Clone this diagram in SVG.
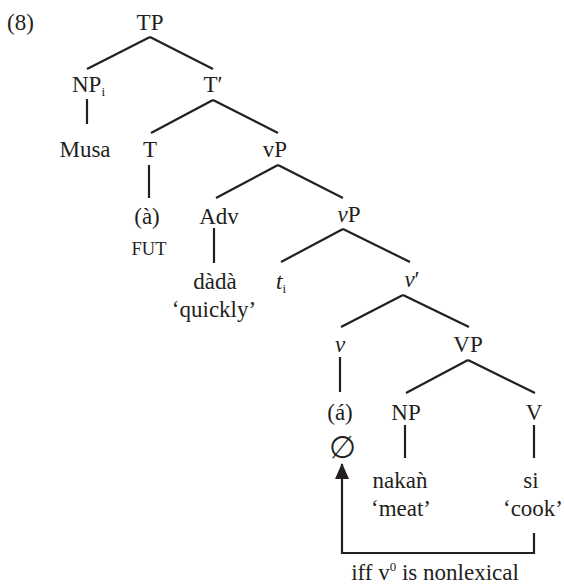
<svg xmlns="http://www.w3.org/2000/svg" width="564" height="586" viewBox="0 0 564 586">
  <style>
    text { font-family: "Liberation Serif", "Times New Roman", serif; font-size: 23px; fill: #231f20; text-anchor: middle; }
    .it { font-style: italic; }
    .sub { font-size: 13px; font-style: normal; }
    .sc { font-size: 18.5px; }
    .edge { stroke: #231f20; stroke-width: 2.2; fill: none; stroke-linecap: butt; }
  </style>
  <defs>
    <marker id="arrowhead" markerWidth="16" markerHeight="14" refX="15" refY="7" orient="auto" markerUnits="userSpaceOnUse" viewBox="0 0 16 14">
      <path d="M0,0 L16,7 L0,14 Z" fill="#231f20"/>
    </marker>
  </defs>
  <rect width="564" height="586" fill="#ffffff"/>

  <text x="7" y="30" style="text-anchor:start">(8)</text>

  <!-- tree branches -->
  <g id="connectors">
    <path class="edge" d="M150,37 L87,69 M150,37 L213,69"/>
    <path class="edge" d="M87,99 V124"/>
    <path class="edge" d="M213,100 L151,133 M213,100 L278,133"/>
    <path class="edge" d="M149,165 V198"/>
    <path class="edge" d="M278,165 L216,198 M278,165 L343,198"/>
    <path class="edge" d="M214,228 V263"/>
    <path class="edge" d="M343,229 L281,262 M343,229 L410,262"/>
    <path class="edge" d="M403,295 L341,327 M403,295 L469,327"/>
    <path class="edge" d="M340,357 V392"/>
    <path class="edge" d="M468,360 L406,393 M468,360 L535,393"/>
    <path class="edge" d="M405,425 V458"/>
    <path class="edge" d="M534,425 V458"/>
    <!-- head movement arrow from V up to v -->
    <path class="edge" d="M534,533 V553 H342 V464" marker-end="url(#arrowhead)"/>
  </g>

  <g id="TP"><text x="150" y="30">TP</text></g>
  <g id="NPi"><text x="72" y="92" style="text-anchor:start">NP<tspan class="sub" dy="4">i</tspan></text></g>
  <g id="Tbar"><text x="213" y="92">T′</text></g>
  <g id="Musa"><text x="85" y="157">Musa</text></g>
  <g id="T"><text x="150" y="157">T</text></g>
  <g id="vP-upper"><text x="275" y="157">vP</text></g>
  <g id="T-head">
    <text x="147" y="224">(à)</text>
    <text class="sc" x="149" y="255">FUT</text>
  </g>
  <g id="Adv"><text x="219" y="224">Adv</text></g>
  <g id="dada">
    <text x="215" y="289">dàdà</text>
    <text x="214" y="317">‘quickly’</text>
  </g>
  <g id="trace"><text class="it" x="276" y="289" style="text-anchor:start">t<tspan class="sub" dy="4">i</tspan></text></g>
  <g id="vP-lower"><text x="349" y="222"><tspan class="it">v</tspan>P</text></g>
  <g id="vbar"><text x="412" y="287"><tspan class="it">v</tspan>′</text></g>
  <g id="v"><text class="it" x="340" y="352">v</text></g>
  <g id="VP"><text x="468" y="352">VP</text></g>
  <g id="v-head">
    <text x="340" y="420">(á)</text>
    <text x="342" y="458" style="font-family:'DejaVu Serif',serif;font-size:31px">∅</text>
  </g>
  <g id="NP"><text x="406" y="420">NP</text></g>
  <g id="V"><text x="534" y="420">V</text></g>
  <g id="nakan">
    <text x="400" y="488">nakaǹ</text>
    <text x="401" y="516">‘meat’</text>
  </g>
  <g id="si">
    <text x="531" y="488">si</text>
    <text x="533" y="516">‘cook’</text>
  </g>
  <g id="condition"><text x="435" y="580">iff v<tspan font-size="13" dy="-9">0</tspan><tspan dy="9"> is nonlexical</tspan></text></g>
</svg>
